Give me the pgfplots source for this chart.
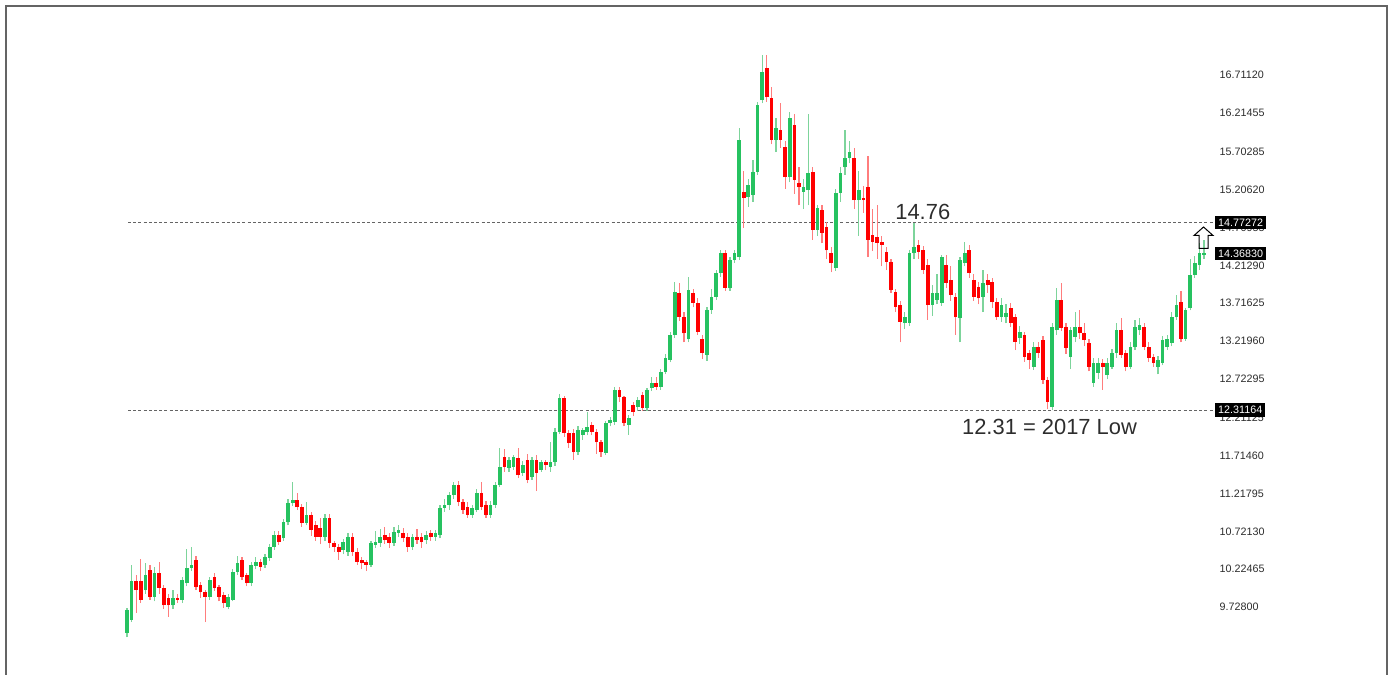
\documentclass[border=0pt]{standalone}
\usepackage{fontspec}
\setmainfont{Liberation Sans}
\usepackage{pgfplots}
\usepackage{pgfplotstable}
\pgfplotsset{compat=1.18}
\definecolor{upc}{RGB}{38,194,96}
\definecolor{upw}{RGB}{125,212,155}
\definecolor{dnc}{RGB}{255,0,0}
\definecolor{dnw}{RGB}{255,125,125}
\definecolor{lab}{RGB}{45,45,45}
\definecolor{dashc}{RGB}{100,100,100}
\definecolor{framec}{RGB}{100,100,100}
\pgfplotstableread{
i o h l c
0 9.39 9.72 9.33 9.69
1 9.56 10.28 9.53 10.07
2 10.07 10.15 9.65 9.95
3 10.07 10.36 9.78 9.82
4 9.95 10.30 9.90 10.15
5 10.21 10.28 9.82 9.86
6 9.86 10.25 9.80 10.17
7 10.17 10.32 9.90 9.98
8 9.98 10.02 9.70 9.75
9 9.85 9.90 9.60 9.75
10 9.75 9.95 9.70 9.85
11 9.85 9.90 9.78 9.82
12 9.82 10.12 9.78 10.08
13 10.04 10.49 10.00 10.24
14 10.24 10.52 10.20 10.28
15 10.34 10.40 9.95 9.99
16 10.02 10.05 9.85 9.92
17 9.92 9.95 9.53 9.86
18 9.86 10.12 9.82 10.08
19 10.12 10.18 9.94 9.98
20 9.99 10.02 9.80 9.86
21 9.89 9.92 9.72 9.78
22 9.73 9.90 9.70 9.86
23 9.82 10.22 9.80 10.19
24 10.19 10.40 10.15 10.31
25 10.34 10.38 10.08 10.12
26 10.15 10.18 10.00 10.04
27 10.04 10.32 10.00 10.28
28 10.27 10.38 10.22 10.32
29 10.32 10.36 10.20 10.25
30 10.28 10.42 10.24 10.38
31 10.37 10.56 10.33 10.52
32 10.52 10.72 10.48 10.67
33 10.67 10.72 10.54 10.58
34 10.63 10.88 10.60 10.84
35 10.84 11.15 10.80 11.09
36 11.09 11.37 11.05 11.13
37 11.13 11.22 11.00 11.04
38 11.04 11.08 10.78 10.83
39 10.83 11.10 10.80 10.94
40 10.94 10.98 10.66 10.74
41 10.80 10.85 10.60 10.65
42 10.76 10.90 10.55 10.65
43 10.65 10.95 10.60 10.90
44 10.90 10.95 10.50 10.57
45 10.57 10.60 10.45 10.52
46 10.52 10.55 10.35 10.45
47 10.48 10.62 10.42 10.58
48 10.45 10.70 10.40 10.65
49 10.65 10.70 10.40 10.45
50 10.45 10.50 10.28 10.32
51 10.34 10.38 10.22 10.30
52 10.32 10.35 10.20 10.28
53 10.28 10.60 10.25 10.57
54 10.54 10.72 10.50 10.58
55 10.57 10.75 10.52 10.65
56 10.67 10.78 10.56 10.61
57 10.65 10.70 10.50 10.57
58 10.57 10.78 10.53 10.71
59 10.70 10.80 10.65 10.74
60 10.70 10.77 10.58 10.63
61 10.65 10.70 10.45 10.51
62 10.51 10.68 10.48 10.65
63 10.65 10.75 10.56 10.61
64 10.65 10.70 10.50 10.58
65 10.61 10.72 10.55 10.67
66 10.70 10.74 10.60 10.65
67 10.65 10.74 10.60 10.70
68 10.67 11.06 10.63 11.03
69 11.03 11.15 10.98 11.07
70 11.07 11.24 11.00 11.20
71 11.20 11.37 11.15 11.33
72 11.33 11.38 11.05 11.11
73 11.11 11.15 10.95 11.00
74 11.04 11.10 10.90 10.94
75 10.94 11.06 10.90 11.03
76 11.00 11.28 10.97 11.22
77 11.22 11.37 11.00 11.04
78 11.07 11.12 10.90 10.94
79 10.94 11.12 10.90 11.07
80 11.07 11.37 11.03 11.33
81 11.33 11.81 11.30 11.57
82 11.70 11.80 11.50 11.57
83 11.55 11.70 11.50 11.66
84 11.57 11.72 11.53 11.70
85 11.68 11.82 11.42 11.46
86 11.49 11.65 11.45 11.59
87 11.66 11.74 11.35 11.40
88 11.43 11.70 11.40 11.66
89 11.66 11.72 11.25 11.49
90 11.53 11.66 11.50 11.63
91 11.63 11.66 11.52 11.59
92 11.57 11.90 11.50 11.63
93 11.63 12.08 11.58 12.03
94 12.03 12.52 12.00 12.47
95 12.47 12.50 11.96 12.01
96 12.01 12.05 11.82 11.88
97 12.01 12.06 11.66 11.76
98 11.76 12.10 11.72 12.05
99 11.99 12.08 11.92 12.05
100 12.03 12.29 11.98 12.09
101 12.12 12.15 11.98 12.03
102 12.03 12.06 11.74 11.89
103 11.89 11.92 11.70 11.76
104 11.75 12.17 11.72 12.14
105 12.14 12.22 12.10 12.18
106 12.16 12.62 12.12 12.58
107 12.58 12.62 12.42 12.48
108 12.48 12.50 12.10 12.14
109 12.12 12.25 11.99 12.21
110 12.38 12.42 12.24 12.29
111 12.35 12.48 12.30 12.45
112 12.51 12.55 12.30 12.34
113 12.34 12.60 12.30 12.58
114 12.60 12.75 12.56 12.67
115 12.67 12.75 12.58 12.62
116 12.62 12.85 12.58 12.81
117 12.81 13.05 12.78 13.00
118 12.97 13.34 12.94 13.30
119 13.30 14.00 13.26 13.86
120 13.85 13.98 13.48 13.53
121 13.53 13.60 13.20 13.32
122 13.24 14.06 13.20 13.89
123 13.85 13.90 13.66 13.72
124 13.72 13.78 13.30 13.34
125 13.24 13.30 12.98 13.06
126 13.04 13.66 12.96 13.63
127 13.63 13.90 13.58 13.80
128 13.80 14.15 13.76 14.11
129 14.11 14.42 14.06 14.38
130 14.38 14.42 13.88 13.92
131 13.92 14.32 13.88 14.28
132 14.28 14.41 14.24 14.38
133 14.32 16.02 14.28 15.86
134 15.18 15.45 14.70 15.10
135 15.11 15.35 14.98 15.27
136 15.14 15.60 15.05 15.44
137 15.44 16.36 15.40 16.32
138 16.38 16.97 16.34 16.75
139 16.80 16.97 16.36 16.42
140 16.41 16.55 15.80 15.86
141 15.86 16.15 15.70 16.02
142 15.99 16.35 15.75 15.86
143 15.77 15.85 15.22 15.37
144 15.37 16.22 15.30 16.15
145 16.06 16.20 15.15 15.33
146 15.29 15.50 15.00 15.24
147 15.18 15.35 14.95 15.24
148 15.20 16.20 15.00 15.43
149 15.44 15.50 14.55 14.68
150 14.68 15.00 14.60 14.97
151 14.94 15.00 14.50 14.64
152 14.72 14.78 14.30 14.41
153 14.38 14.45 14.12 14.24
154 14.18 15.22 14.14 15.16
155 15.16 15.50 15.05 15.43
156 15.50 15.99 15.40 15.62
157 15.62 15.85 15.55 15.70
158 15.62 15.75 14.95 15.07
159 15.07 15.45 14.60 15.20
160 15.10 15.25 14.90 15.07
161 15.24 15.65 14.32 14.55
162 14.61 14.95 14.40 14.52
163 14.58 15.00 14.30 14.51
164 14.52 14.60 14.20 14.48
165 14.39 14.45 14.15 14.26
166 14.26 14.30 13.85 13.89
167 13.86 13.90 13.60 13.67
168 13.69 13.75 13.20 13.47
169 13.46 13.60 13.38 13.53
170 13.46 14.42 13.42 14.38
171 14.38 14.77 14.30 14.45
172 14.48 14.55 14.30 14.39
173 14.41 14.47 14.10 14.15
174 14.22 14.30 13.50 13.69
175 13.69 13.95 13.55 13.85
176 13.76 14.10 13.70 13.85
177 13.72 14.35 13.68 14.32
178 14.22 14.35 13.92 13.98
179 14.02 14.20 13.75 13.82
180 13.80 13.85 13.30 13.53
181 13.52 14.32 13.20 14.28
182 14.24 14.52 14.20 14.38
183 14.41 14.48 14.05 14.11
184 14.02 14.10 13.75 13.80
185 13.93 14.00 13.70 13.78
186 13.80 14.15 13.60 13.98
187 14.02 14.10 13.85 13.95
188 13.99 14.05 13.65 13.73
189 13.73 13.78 13.50 13.53
190 13.53 13.78 13.47 13.69
191 13.53 13.70 13.45 13.59
192 13.65 13.72 13.40 13.46
193 13.53 13.58 13.10 13.21
194 13.26 13.42 13.18 13.34
195 13.30 13.34 12.95 13.01
196 13.06 13.10 12.85 12.97
197 12.88 13.20 12.84 13.14
198 13.14 13.20 13.00 13.06
199 13.23 13.28 12.66 12.71
200 12.71 12.75 12.33 12.42
201 12.35 13.45 12.31 13.40
202 13.36 13.92 13.30 13.76
203 13.76 13.98 13.35 13.39
204 13.40 13.45 13.05 13.13
205 13.01 13.40 12.85 13.36
206 13.27 13.60 13.20 13.40
207 13.40 13.62 13.25 13.32
208 13.32 13.45 13.15 13.23
209 13.19 13.25 12.82 12.88
210 12.67 13.00 12.62 12.93
211 12.80 13.00 12.72 12.93
212 12.93 12.98 12.58 12.88
213 12.77 13.00 12.72 12.93
214 12.88 13.12 12.85 13.06
215 13.06 13.45 13.00 13.36
216 13.36 13.52 13.00 13.04
217 13.06 13.10 12.82 12.88
218 12.88 13.20 12.85 13.14
219 13.14 13.50 13.10 13.40
220 13.36 13.52 13.30 13.43
221 13.40 13.45 13.10 13.14
222 13.14 13.20 12.95 13.00
223 13.01 13.05 12.88 12.93
224 12.88 13.02 12.78 12.97
225 12.93 13.28 12.90 13.23
226 13.14 13.30 13.10 13.25
227 13.19 13.60 13.15 13.53
228 13.53 13.82 13.50 13.69
229 13.73 13.88 13.20 13.25
230 13.25 13.65 13.22 13.63
231 13.65 14.30 13.62 14.09
232 14.09 14.33 14.05 14.24
233 14.22 14.50 14.15 14.37
234 14.35 14.55 14.30 14.37
}\ohlc
\begin{document}
\begin{tikzpicture}
\useasboundingbox (-128bp,0bp) rectangle (1265bp,675bp);
\begin{axis}[
  at={(0bp,0bp)}, anchor=south west,
  scale only axis, width=1085bp, height=675bp,
  xmin=0.217, xmax=235.96,
  ymin=8.835, ymax=17.6957,
  axis line style={draw=none},
  xtick=\empty,
  ytick={9.728,10.22465,10.7213,11.21795,11.7146,12.21125,12.72295,13.2196,13.71625,14.2129,14.70955,15.2062,15.70285,16.21455,16.7112},
  yticklabels={9.72800,10.22465,10.72130,11.21795,11.71460,12.21125,12.72295,13.21960,13.71625,14.21290,14.70955,15.20620,15.70285,16.21455,16.71120},
  yticklabel pos=right,
  major tick length=0pt,
  yticklabel style={font=\fontsize{10.8}{12}\selectfont, text=lab, anchor=west, inner sep=0pt, xshift=6.5bp},
  clip=false,
]
% dashed levels
\draw[dashc, line width=1bp, dash pattern=on 3bp off 2.2bp] (axis cs:0.217,14.77272) -- (axis cs:235.96,14.77272);
\draw[dashc, line width=1bp, dash pattern=on 3bp off 2.2bp] (axis cs:0.217,12.31164) -- (axis cs:235.96,12.31164);
% up candles: wicks and bodies
\addplot[draw=none, mark=none, forget plot,
  restrict expr to domain={\thisrow{c}-\thisrow{o}}{0:100},
  error bars/.cd, y dir=plus, y explicit, error mark=none,
  error bar style={draw=upw, solid, line width=1.2bp}]
  table[x=i, y=l, y error plus expr={\thisrow{h}-\thisrow{l}}] {\ohlc};
\addplot[draw=none, mark=none, forget plot,
  restrict expr to domain={\thisrow{c}-\thisrow{o}}{0:100},
  error bars/.cd, y dir=plus, y explicit, error mark=none,
  error bar style={draw=upc, solid, line width=3.7bp}]
  table[x=i, y=o, y error plus expr={\thisrow{c}-\thisrow{o}}] {\ohlc};
% down candles
\addplot[draw=none, mark=none, forget plot,
  restrict expr to domain={\thisrow{c}-\thisrow{o}}{-100:0},
  error bars/.cd, y dir=plus, y explicit, error mark=none,
  error bar style={draw=dnw, solid, line width=1.2bp}]
  table[x=i, y=l, y error plus expr={\thisrow{h}-\thisrow{l}}] {\ohlc};
\addplot[draw=none, mark=none, forget plot,
  restrict expr to domain={\thisrow{c}-\thisrow{o}}{-100:0},
  error bars/.cd, y dir=plus, y explicit, error mark=none,
  error bar style={draw=dnc, solid, line width=3.7bp}]
  table[x=i, y=c, y error plus expr={\thisrow{o}-\thisrow{c}}] {\ohlc};
\coordinate (B1) at (axis cs:235.96,14.77272);
\coordinate (B2) at (axis cs:235.96,14.3683);
\coordinate (B3) at (axis cs:235.96,12.31164);
\coordinate (AR) at (axis cs:233.9,14.716);
\coordinate (T1) at (axis cs:166.9,14.913);
\coordinate (T2) at (axis cs:181.4,12.09);
\end{axis}
\tikzset{pbox/.style={fill=black, text=white, anchor=west, inner xsep=3bp, inner ysep=0bp, minimum height=13.5bp, font=\fontsize{10.8}{12}\selectfont}}
\node[pbox] at ([xshift=2bp]B1) {14.77272};
\node[pbox] at ([xshift=2bp]B2) {14.36830};
\node[pbox] at ([xshift=2bp]B3) {12.31164};
\node[anchor=west, inner sep=0pt, text=lab, font=\fontsize{22}{25}\selectfont] at (T1) {14.76};
\node[anchor=west, inner sep=0pt, text=lab, font=\fontsize{22}{25}\selectfont] at (T2) {12.31 = 2017 Low};
\draw[black, line width=1bp, line join=miter] (AR) -- ++(9.5bp,-8.5bp) -- ++(-5bp,0bp) -- ++(0bp,-13bp) -- ++(-9bp,0bp) -- ++(0bp,13bp) -- ++(-5bp,0bp) -- cycle;
\draw[framec, line width=2bp] (-122bp,-5bp) -- (-122bp,669bp) -- (1259bp,669bp) -- (1259bp,-5bp);
\end{tikzpicture}
\end{document}
